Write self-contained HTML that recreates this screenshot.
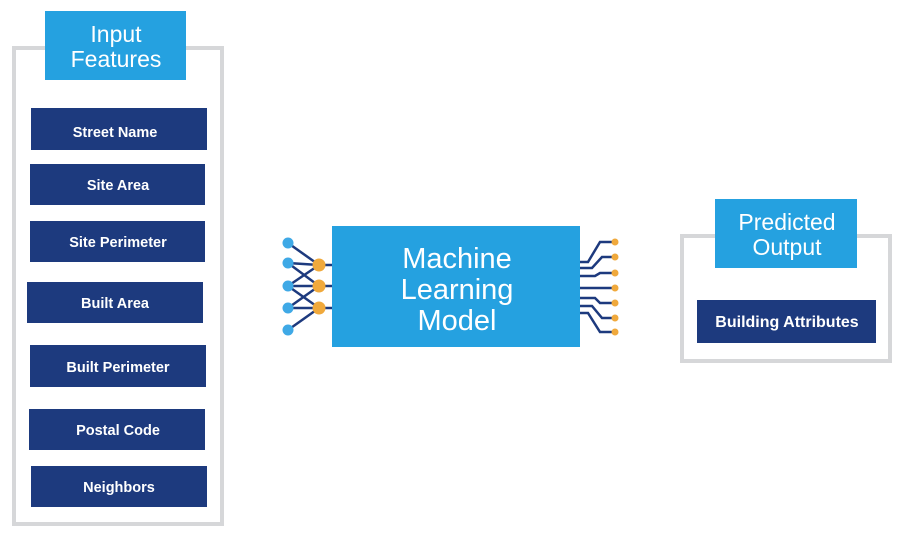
<!DOCTYPE html>
<html><head><style>
html,body{margin:0;padding:0;background:#fff;}
svg{display:block}
text{font-family:"Liberation Sans",sans-serif;fill:#fff;text-anchor:middle}
.d{fill:#1d3a7e}
.l{fill:#25a1e0}
.s{font-size:14.5px;font-weight:bold}
.h{font-size:23px}
</style></head><body>
<svg width="904" height="537" viewBox="0 0 904 537">
<rect x="14" y="48" width="208" height="476" fill="none" stroke="#d6d7d9" stroke-width="4"/>
<rect x="45" y="11" width="141" height="69" class="l"/>
<text x="116" y="42" class="h">Input</text>
<text x="116" y="67" class="h">Features</text>
<rect x="31" y="108" width="176" height="42" class="d"/><text x="115" y="137" class="s">Street Name</text>
<rect x="30" y="164" width="175" height="41" class="d"/><text x="118" y="190" class="s">Site Area</text>
<rect x="30" y="221" width="175" height="41" class="d"/><text x="118" y="247" class="s">Site Perimeter</text>
<rect x="27" y="282" width="176" height="41" class="d"/><text x="115" y="308" class="s">Built Area</text>
<rect x="30" y="345" width="176" height="42" class="d"/><text x="118" y="372" class="s">Built Perimeter</text>
<rect x="29" y="409" width="176" height="41" class="d"/><text x="118" y="435" class="s">Postal Code</text>
<rect x="31" y="466" width="176" height="41" class="d"/><text x="119" y="492" class="s">Neighbors</text>

<g stroke="#1d3a7e" stroke-width="2.5" fill="none">
<line x1="288" y1="243" x2="319" y2="265"/>
<line x1="288" y1="263" x2="319" y2="265"/>
<line x1="288" y1="263" x2="319" y2="286"/>
<line x1="288" y1="286" x2="319" y2="265"/>
<line x1="288" y1="286" x2="319" y2="286"/>
<line x1="288" y1="286" x2="319" y2="308"/>
<line x1="288" y1="308" x2="319" y2="286"/>
<line x1="288" y1="308" x2="319" y2="308"/>
<line x1="288" y1="330" x2="319" y2="308"/>
<line x1="319" y1="265" x2="332" y2="265"/>
<line x1="319" y1="286" x2="332" y2="286"/>
<line x1="319" y1="308" x2="332" y2="308"/>
<path d="M580 262 L588 262 L600 242 L615 242"/>
<path d="M580 268 L592 268 L602 257 L615 257"/>
<path d="M580 276 L595 276 L600 273 L615 273"/>
<path d="M580 288 L615 288"/>
<path d="M580 298 L595 298 L600 303 L615 303"/>
<path d="M580 306 L592 306 L602 318 L615 318"/>
<path d="M580 313 L588 313 L600 332 L615 332"/>
</g>
<g fill="#3fa9e6">
<circle cx="288" cy="243" r="5.5"/><circle cx="288" cy="263" r="5.5"/><circle cx="288" cy="286" r="5.5"/><circle cx="288" cy="308" r="5.5"/><circle cx="288" cy="330" r="5.5"/>
</g>
<g fill="#f0a93c">
<circle cx="319" cy="265" r="6.5"/><circle cx="319" cy="286" r="6.5"/><circle cx="319" cy="308" r="6.5"/>
<circle cx="615" cy="242" r="3.5"/><circle cx="615" cy="257" r="3.5"/><circle cx="615" cy="273" r="3.5"/><circle cx="615" cy="288" r="3.5"/><circle cx="615" cy="303" r="3.5"/><circle cx="615" cy="318" r="3.5"/><circle cx="615" cy="332" r="3.5"/>
</g>
<rect x="332" y="226" width="248" height="121" class="l"/>
<text x="457" y="268" style="font-size:29px">Machine</text>
<text x="457" y="299" style="font-size:29px">Learning</text>
<text x="457" y="330" style="font-size:29px">Model</text>

<rect x="682" y="236" width="208" height="125" fill="none" stroke="#d6d7d9" stroke-width="4"/>
<rect x="715" y="199" width="142" height="69" class="l"/>
<text x="787" y="230" class="h">Predicted</text>
<text x="787" y="255" class="h">Output</text>
<rect x="697" y="300" width="179" height="43" class="d"/>
<text x="787" y="327" style="font-size:16px;font-weight:bold">Building Attributes</text>
</svg>
</body></html>
